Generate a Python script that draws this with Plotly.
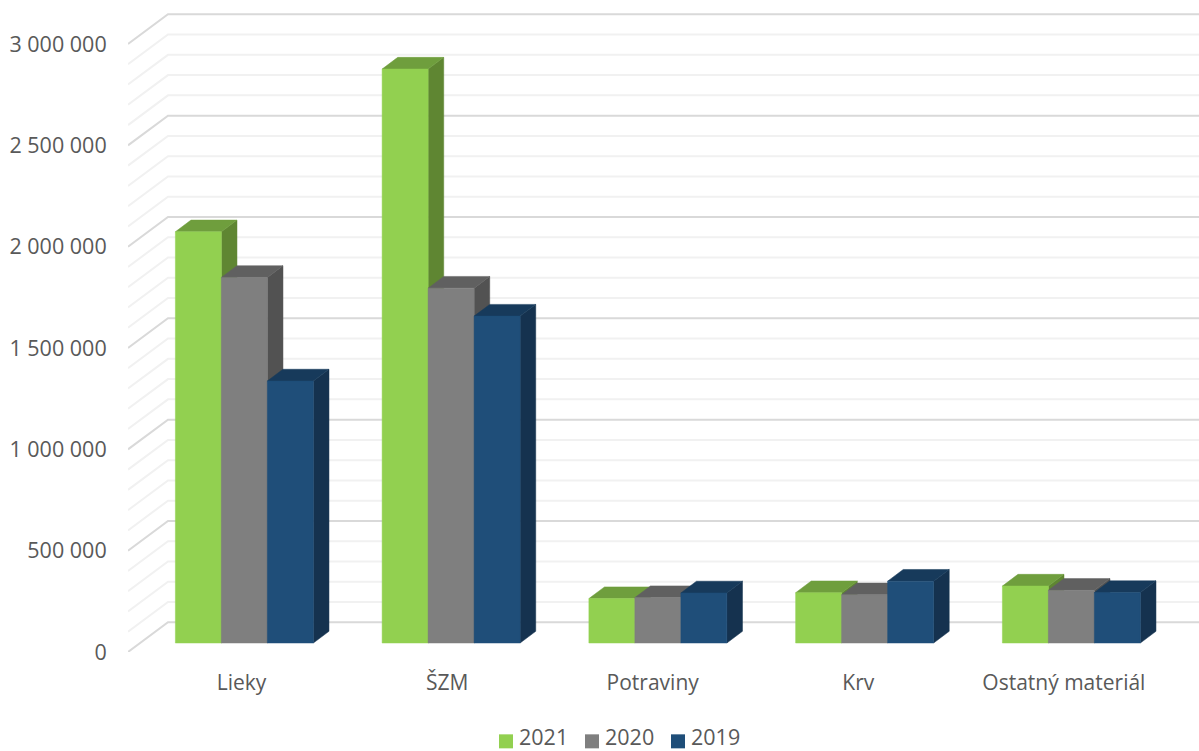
import plotly.graph_objects as go

categories = ["Lieky", "ŠZM", "Potraviny", "Krv", "Ostatný materiál"]
years = ["2021", "2020", "2019"]
v2021 = [2029000, 2832000, 219000, 248000, 281000]
v2020 = [1804000, 1751000, 224000, 238000, 260000]
v2019 = [1293000, 1613000, 247000, 305000, 249000]
major_ticks = [0, 500000, 1000000, 1500000, 2000000, 2500000, 3000000]
major_labels = ["0", "500 000", "1 000 000", "1 500 000", "2 000 000", "2 500 000", "3 000 000"]
minor_ticks = [v for v in range(0, 3000001, 100000) if v % 500000]

front_col = ["#92D050", "#7F7F7F", "#1F4E79"]
top_col = ["#6F9E3D", "#606060", "#173A5B"]
side_col = ["#5F8632", "#525252", "#15324F"]

W, H = 1199, 751
L, R, T, B = 128, 0, 5, 99.3
PX_PER_CAT = 206.75
PX_PER_VAL = 607.7 / 3000000
px = lambda p: p / PX_PER_CAT
val = lambda p: p / PX_PER_VAL

wall_dx, wall_dy = px(40), val(29.7)       # full floor depth
bar_dx, bar_dy = px(13), val(9)            # where bars' front face sits
deep_dx, deep_dy = px(15.6), val(11.7)     # depth of one bar
bar_w = px(46)

fig = go.Figure()
x_end = (W - L) / PX_PER_CAT - 0.5
x_start = -0.5


def grid(ticks, color, width):
    xs, ys = [], []
    for v in ticks:
        xs += [x_start, x_start + wall_dx, x_end, None]
        ys += [v, v + wall_dy, v + wall_dy, None]
    fig.add_trace(go.Scatter(x=xs, y=ys, mode="lines", line=dict(color=color, width=width),
                             hoverinfo="skip", showlegend=False))


grid(minor_ticks, "#F1F1F1", 2)
grid(major_ticks, "#D9D9D9", 2)


def poly(xs, ys, color, hover=None):
    fig.add_trace(go.Scatter(x=xs, y=ys, mode="lines", fill="toself", fillcolor=color,
                             line=dict(color=color, width=0.5),
                             hoverinfo="text" if hover else "skip", text=hover,
                             showlegend=False))


series = [v2021, v2020, v2019]
for s, values in enumerate(series):
    for i, v in enumerate(values):
        x0 = i - 1.5 * bar_w + s * bar_w + bar_dx
        x1 = x0 + bar_w
        y0 = bar_dy
        y1 = bar_dy + v
        poly([x1, x1 + deep_dx, x1 + deep_dx, x1, x1],
             [y0, y0 + deep_dy, y1 + deep_dy, y1, y0], side_col[s])
        poly([x0, x1, x1 + deep_dx, x0 + deep_dx, x0],
             [y1, y1, y1 + deep_dy, y1 + deep_dy, y1], top_col[s])
        poly([x0, x1, x1, x0, x0], [y0, y0, y1, y1, y0], front_col[s],
             hover=f"{categories[i]} {years[s]}: {v:,}".replace(",", " "))

label_ticks = [0.049 + i * 0.9944 for i in range(len(categories))]
FONT = "Open Sans"
TXT = "#595959"

# compact key: swatch hugging its year, as in the reference
plot_w, plot_h = W - L - R, H - T - B
paper_x = lambda p: (p - L) / plot_w
paper_y = lambda p: (H - B - p) / plot_h
key_swatch_left = [499, 585, 671]
key_text_left = [516.5, 602.5, 688.5]
key_swatch_mid, key_text_mid, key_size = 741, 736.5, 14
for s, y in enumerate(years):
    fig.add_shape(type="rect", xref="paper", yref="paper", line_width=0, fillcolor=front_col[s],
                  x0=paper_x(key_swatch_left[s]), x1=paper_x(key_swatch_left[s] + key_size),
                  y0=paper_y(key_swatch_mid + key_size / 2), y1=paper_y(key_swatch_mid - key_size / 2))
    fig.add_annotation(text=y, xref="paper", yref="paper", x=paper_x(key_text_left[s]), y=paper_y(key_text_mid),
                       xanchor="left", yanchor="middle", showarrow=False,
                       font=dict(family=FONT, size=21.5, color=TXT))

fig.update_layout(
    width=W, height=H, autosize=False, showlegend=False,
    margin=dict(l=L, r=R, t=T, b=B, pad=0),
    paper_bgcolor="white", plot_bgcolor="white",
    font=dict(family=FONT, size=21, color=TXT),
    hovermode="closest",
    xaxis=dict(range=[x_start, x_end], tickmode="array", tickvals=label_ticks, ticktext=categories,
               showgrid=False, zeroline=False, showline=False, ticks="outside", ticklen=12,
               tickcolor="rgba(0,0,0,0)", tickfont=dict(family=FONT, size=21, color=TXT), fixedrange=True),
    yaxis=dict(range=[0, plot_h / PX_PER_VAL], tickmode="array", tickvals=major_ticks, ticktext=major_labels,
               showgrid=False, zeroline=False, showline=False, ticks="outside", ticklen=16,
               tickcolor="rgba(0,0,0,0)", tickfont=dict(family=FONT, size=21.5, color=TXT), fixedrange=True),
)
fig.write_html("out.html", config={"displayModeBar": False},
               post_script="document.body.style.margin='0';document.body.style.overflow='hidden';")
